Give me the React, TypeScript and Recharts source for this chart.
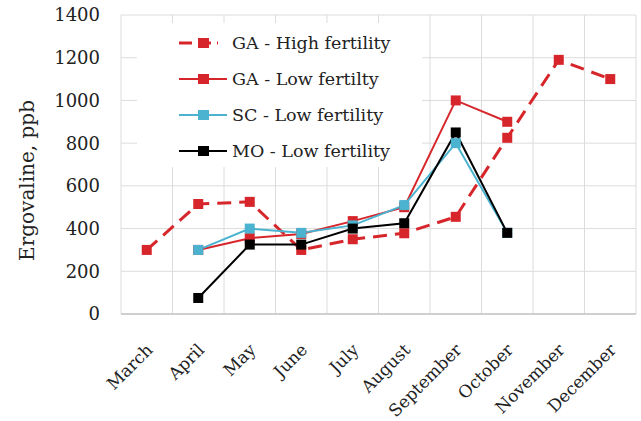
import React from 'react';
import { LineChart, Line, XAxis, YAxis, CartesianGrid, Legend } from 'recharts';

const months = ['March', 'April', 'May', 'June', 'July', 'August', 'September', 'October', 'November', 'December'];
const gaHigh = [300, 515, 525, 300, 350, 378, 455, 825, 1190, 1100];
const gaLow = [null, 300, 355, 375, 435, 500, 1000, 900, null, null];
const scLow = [null, 300, 400, 380, 415, 510, 800, 380, null, null];
const moLow = [null, 75, 325, 325, 400, 425, 850, 380, null, null];
const yTicks = [0, 200, 400, 600, 800, 1000, 1200, 1400];

const RED = '#d7262b';
const CYAN = '#4bb3d0';
const BLACK = '#000000';
const FONT = '"DejaVu Serif", serif';

const series = [
  { key: 'gaHigh', name: 'GA - High fertility', color: RED, dashed: true, width: 3 },
  { key: 'gaLow', name: 'GA - Low fertilty', color: RED, dashed: false, width: 2 },
  { key: 'scLow', name: 'SC - Low fertility', color: CYAN, dashed: false, width: 2 },
  { key: 'moLow', name: 'MO - Low fertility', color: BLACK, dashed: false, width: 2 },
];

const data = months.map((m, i) => ({
  month: m,
  gaHigh: gaHigh[i],
  gaLow: gaLow[i],
  scLow: scLow[i],
  moLow: moLow[i],
}));

const squareDot = (color: string) => (p: any) => {
  if (p.cx == null || p.cy == null || p.value == null) return <g key={p.key} />;
  const s = 10;
  return <rect key={p.key} x={p.cx - s / 2} y={p.cy - s / 2} width={s} height={s} fill={color} stroke="none" />;
};

const XTick = (p: any) => {
  const { x, y, payload } = p;
  const ax = x + 7;
  return (
    <text
      x={ax}
      y={y}
      transform={`rotate(-45, ${ax}, ${y})`}
      textAnchor="end"
      fontFamily={FONT}
      fontSize={17}
      fill="#222"
    >
      {payload.value}
    </text>
  );
};

const LegendContent = () => (
  <div style={{ background: '#fff', width: '100%', height: '100%', paddingTop: 2, boxSizing: 'border-box' }}>
    {series.map((s) => (
      <div key={s.key} style={{ display: 'flex', alignItems: 'center', height: 36 }}>
        <svg width={95} height={16} style={{ flex: 'none' }}>
          <line
            x1={42}
            x2={s.dashed ? 81 : 90}
            y1={8}
            y2={8}
            stroke={s.color}
            strokeWidth={s.width}
            strokeDasharray={s.dashed ? '13 6' : undefined}
          />
          <rect x={61} y={3} width={11} height={10} fill={s.color} />
        </svg>
        <span style={{ fontFamily: FONT, fontSize: 17.5, color: '#222', whiteSpace: 'nowrap' }}>{s.name}</span>
      </div>
    ))}
  </div>
);

export default function App() {
  return (
    <div style={{ position: 'absolute', left: 0, top: 0, width: 641, height: 421, background: '#fff' }}>
      <LineChart width={641} height={421} data={data} margin={{ top: 15, right: 5, left: 0, bottom: 0 }}>
        <CartesianGrid
          stroke="#dcdcdc"
          strokeWidth={1}
          verticalCoordinatesGenerator={({ offset }: any) =>
            Array.from({ length: months.length + 1 }, (_, i) => offset.left + (i * offset.width) / months.length)
          }
        />
        <XAxis
          dataKey="month"
          scale="band"
          height={107}
          interval={0}
          axisLine={{ stroke: '#c4c4c4', strokeWidth: 1.5 }}
          tickLine={false}
          tickSize={6}
          tickMargin={31}
          tick={<XTick />}
        />
        <YAxis
          width={121}
          domain={[0, 1400]}
          ticks={yTicks}
          axisLine={false}
          tickLine={false}
          tickSize={6}
          tickMargin={15}
          tick={{ fontFamily: FONT, fontSize: 18, fill: '#222' }}
          label={{
            content: ({ viewBox }: any) => {
              const cx = viewBox.x + 34;
              const cy = viewBox.y + viewBox.height / 2 + 16;
              return (
                <text
                  x={cx}
                  y={cy}
                  transform={`rotate(-90, ${cx}, ${cy})`}
                  textAnchor="middle"
                  fontFamily={FONT}
                  fontSize={20}
                  fill="#222"
                >
                  Ergovaline, ppb
                </text>
              );
            },
          }}
        />
        <Legend
          layout="horizontal"
          verticalAlign="middle"
          align="center"
          content={<LegendContent />}
          wrapperStyle={{ position: 'absolute', left: 137, top: 23, width: 285, height: 144, margin: 0 }}
        />
        {series.map((s) => (
          <Line
            key={s.key}
            type="linear"
            dataKey={s.key}
            name={s.name}
            stroke={s.color}
            strokeWidth={s.width}
            strokeDasharray={s.dashed ? '14 8' : undefined}
            dot={squareDot(s.color)}
            activeDot={false}
            isAnimationActive={false}
            connectNulls={false}
          />
        ))}
      </LineChart>
    </div>
  );
}
